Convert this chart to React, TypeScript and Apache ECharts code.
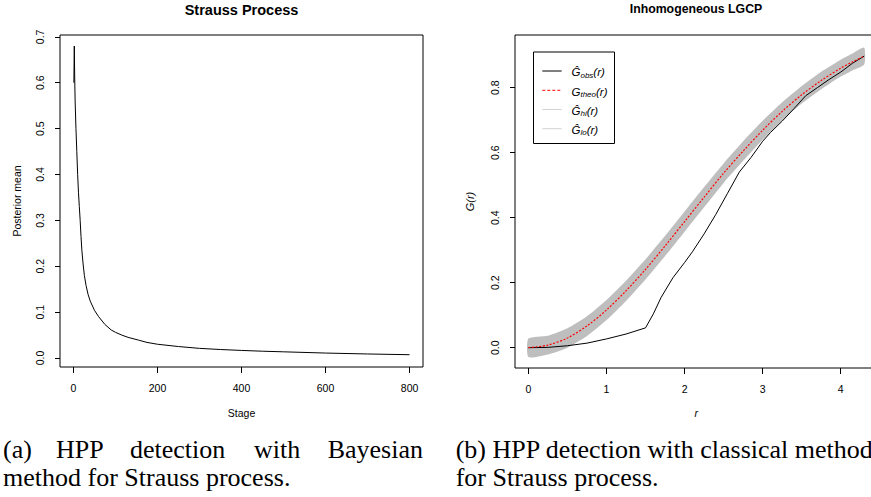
import React, { useEffect, useRef } from "react";
import * as echarts from "echarts";

// ---------- Left panel: Strauss Process (posterior mean by stage) ----------
const stage = [1, 2, 3, 4, 6, 8, 10, 12, 14, 16, 18, 20, 23, 26, 30, 35, 40, 50, 60, 75, 90, 100, 115, 130, 155, 175, 200, 250, 275, 300, 350, 400, 450, 500, 600, 700, 800];
const posteriorMean = [0.6, 0.68, 0.61, 0.56, 0.5, 0.45, 0.4, 0.36, 0.33, 0.3, 0.265, 0.235, 0.205, 0.18, 0.158, 0.138, 0.124, 0.104, 0.09, 0.073, 0.061, 0.056, 0.05, 0.045, 0.039, 0.034, 0.03, 0.025, 0.023, 0.021, 0.0185, 0.0165, 0.0148, 0.0135, 0.0108, 0.0088, 0.0072];
const stageTicks = [0, 200, 400, 600, 800];
const meanTicks = [0, 0.1, 0.2, 0.3, 0.4, 0.5, 0.6, 0.7];

// ---------- Right panel: Inhomogeneous LGCP (G function) ----------
const rGrid = [0, 0.25, 0.5, 0.75, 1, 1.25, 1.5, 1.75, 2, 2.25, 2.5, 2.75, 3, 3.25, 3.5, 3.75, 4, 4.15, 4.3];
const gTheo = [0, 0.008, 0.03, 0.067, 0.116, 0.175, 0.241, 0.313, 0.388, 0.463, 0.537, 0.605, 0.669, 0.727, 0.778, 0.822, 0.86, 0.879, 0.897];
const gHi = [0.028, 0.037, 0.06, 0.097, 0.147, 0.206, 0.272, 0.344, 0.419, 0.494, 0.567, 0.635, 0.698, 0.755, 0.805, 0.849, 0.886, 0.905, 0.923];
const gLo = [-0.029, -0.021, 0.0, 0.036, 0.085, 0.144, 0.21, 0.282, 0.357, 0.432, 0.507, 0.575, 0.64, 0.699, 0.751, 0.795, 0.834, 0.853, 0.871];
const rObs = [0, 0.25, 0.5, 0.75, 1.0, 1.25, 1.5, 1.6, 1.7, 1.85, 2.0, 2.1, 2.25, 2.4, 2.55, 2.7, 2.85, 3.0, 3.1, 3.25, 3.4, 3.55, 3.7, 3.85, 4.0, 4.15, 4.3];
const gObs = [0, 0.001, 0.006, 0.014, 0.027, 0.042, 0.061, 0.104, 0.155, 0.215, 0.262, 0.295, 0.35, 0.41, 0.475, 0.54, 0.585, 0.635, 0.662, 0.697, 0.735, 0.775, 0.8, 0.825, 0.848, 0.875, 0.897];
const rTicks = [0, 1, 2, 3, 4];
const gTicks = [0, 0.2, 0.4, 0.6, 0.8];

const legendLabels = [
  "{g|Ĝ}{s|obs}{g|(r)}",
  "{g|G}{s|theo}{g|(r)}",
  "{g|Ĝ}{s|hi}{g|(r)}",
  "{g|Ĝ}{s|lo}{g|(r)}",
];
const legendColors = ["#000000", "#ff0000", "#d3d3d3", "#d3d3d3"];
const legendDash: any[] = ["solid", [3, 2], "solid", "solid"];

const captionA1 = ["(a)", "HPP", "detection", "with", "Bayesian"];
const captionA2 = "method for Strauss process.";
const captionB1 = "(b) HPP detection with classical method";
const captionB2 = "for Strauss process.";

const SANS = "'Liberation Sans', Arial, Helvetica, sans-serif";
const SERIF = "'Liberation Serif', 'Times New Roman', Times, serif";

function axisBase(ticks: number[], fmt: (v: number) => string, tickLen: number, margin: number, rotate = 0) {
  return {
    type: "value" as const,
    axisLine: { show: false, onZero: false },
    splitLine: { show: false },
    axisTick: { show: true, inside: false, length: tickLen, customValues: ticks, lineStyle: { color: "#000", width: 1 } },
    axisLabel: { customValues: ticks, formatter: fmt, color: "#000", fontSize: 10.5, fontFamily: SANS, margin, rotate },
    nameTextStyle: { color: "#000", fontSize: 10.5, fontFamily: SANS },
  };
}

export default function App() {
  const ref = useRef<HTMLDivElement>(null);
  useEffect(() => {
    if (!ref.current) return;
    const chart = echarts.init(ref.current, null, { renderer: "svg" });

    const legendX0 = 533.5;
    const legendY0 = 52;
    const rowY = [71, 90.3, 109.5, 128.7];
    const legendGraphics: any[] = [
      { type: "rect", shape: { x: legendX0, y: legendY0, width: 81, height: 91.5 }, style: { fill: "#fff", stroke: "#000", lineWidth: 1 }, z: 50 },
    ];
    legendLabels.forEach((lab, i) => {
      legendGraphics.push({
        type: "line",
        shape: { x1: 542.3, y1: rowY[i], x2: 561.7, y2: rowY[i] },
        style: { stroke: legendColors[i], lineWidth: 1, lineDash: legendDash[i] === "solid" ? null : legendDash[i] },
        z: 51,
      });
      legendGraphics.push({
        type: "text",
        x: 571.5,
        y: rowY[i] + 1.2,
        z: 51,
        style: {
          text: lab,
          align: "left",
          verticalAlign: "middle",
          fill: "#000",
          rich: {
            g: { fontSize: 11.5, fontStyle: "italic", fontFamily: SANS, lineHeight: 14, verticalAlign: "middle", fill: "#000" },
            s: { fontSize: 8, fontStyle: "italic", fontFamily: SANS, lineHeight: 7, verticalAlign: "bottom", fill: "#000" },
          },
        },
      });
    });

    const captionXs = [3, 56, 130, 254, 423];
    const captionGraphics: any[] = captionA1.map((w, i) => ({
      type: "text",
      x: captionXs[i],
      y: 449.2,
      style: { text: w, fontSize: 26, fontFamily: SERIF, fill: "#000", align: i === captionA1.length - 1 ? "right" : "left", verticalAlign: "middle" },
    }));
    captionGraphics.push(
      { type: "text", x: 3, y: 477.4, style: { text: captionA2, fontSize: 26, fontFamily: SERIF, fill: "#000", align: "left", verticalAlign: "middle" } },
      { type: "text", x: 455.7, y: 449.2, style: { text: captionB1, fontSize: 26, fontFamily: SERIF, fill: "#000", align: "left", verticalAlign: "middle" } },
      { type: "text", x: 455.7, y: 477.4, style: { text: captionB2, fontSize: 26, fontFamily: SERIF, fill: "#000", align: "left", verticalAlign: "middle" } }
    );

    const titleGraphics: any[] = [
      { type: "text", x: 241.5, y: 10, style: { text: "Strauss Process", fontSize: 14.5, fontWeight: "bold", fontFamily: SANS, fill: "#000", align: "center", verticalAlign: "middle" } },
      { type: "text", x: 696, y: 8.7, style: { text: "Inhomogeneous LGCP", fontSize: 12.3, fontWeight: "bold", fontFamily: SANS, fill: "#000", align: "center", verticalAlign: "middle" } },
    ];

    const option: any = {
      animation: false,
      backgroundColor: "#ffffff",
      textStyle: { fontFamily: SANS },
      grid: [
        { left: 60, top: 35, width: 363, height: 332, show: true, borderColor: "#000", borderWidth: 1, backgroundColor: "transparent", containLabel: false, outerBoundsMode: "none" },
        { left: 515, top: 35, width: 362.6, height: 333, show: true, borderColor: "#000", borderWidth: 1, backgroundColor: "transparent", containLabel: false, outerBoundsMode: "none" },
      ],
      xAxis: [
        {
          ...axisBase(stageTicks, (v: number) => String(v), 6, 15.5),
          gridIndex: 0,
          min: -32,
          max: 832,
          name: "Stage",
          nameLocation: "middle",
          nameGap: 40.5,
        },
        {
          ...axisBase(rTicks, (v: number) => String(v), 6, 15.5),
          gridIndex: 1,
          min: -0.172,
          max: 4.472,
          name: "r",
          nameLocation: "middle",
          nameGap: 39.5,
          nameTextStyle: { color: "#000", fontSize: 10.5, fontFamily: SANS, fontStyle: "italic" },
        },
      ],
      yAxis: [
        {
          ...axisBase(meanTicks, (v: number) => v.toFixed(1), 5, 14.5, 90),
          gridIndex: 0,
          min: -0.0196,
          max: 0.704,
          name: "Posterior mean",
          nameLocation: "middle",
          nameGap: 38,
        },
        {
          ...axisBase(gTicks, (v: number) => v.toFixed(1), 5, 14.2, 90),
          gridIndex: 1,
          min: -0.0625,
          max: 0.962,
          name: "G(r)",
          nameLocation: "middle",
          nameGap: 39.5,
          nameTextStyle: { color: "#000", fontSize: 11, fontFamily: SANS, fontStyle: "italic" },
        },
      ],
      series: [
        {
          name: "Posterior mean",
          type: "line",
          xAxisIndex: 0,
          yAxisIndex: 0,
          data: stage.map((s, i) => [s, posteriorMean[i]]),
          showSymbol: false,
          symbol: "none",
          lineStyle: { color: "#000", width: 1 },
          silent: true,
        },
        {
          name: "envelope",
          type: "custom",
          xAxisIndex: 1,
          yAxisIndex: 1,
          data: [[rGrid[0], gLo[0]]],
          silent: true,
          z: 1,
          renderItem: (params: any, api: any) => {
            const pts: number[][] = [];
            rGrid.forEach((r, i) => pts.push(api.coord([r, gHi[i]])));
            for (let i = rGrid.length - 1; i >= 0; i--) pts.push(api.coord([rGrid[i], gLo[i]]));
            return { type: "polygon", shape: { points: pts, smooth: 0.2 }, style: { fill: "#bebebe", stroke: null } };
          },
        },
        {
          name: "obs",
          type: "line",
          xAxisIndex: 1,
          yAxisIndex: 1,
          data: rObs.map((r, i) => [r, gObs[i]]),
          showSymbol: false,
          symbol: "none",
          lineStyle: { color: "#000", width: 1 },
          z: 3,
          silent: true,
        },
        {
          name: "theo",
          type: "line",
          xAxisIndex: 1,
          yAxisIndex: 1,
          data: rGrid.map((r, i) => [r, gTheo[i]]),
          showSymbol: false,
          symbol: "none",
          smooth: 0.3,
          lineStyle: { color: "#ff0000", width: 1.2, type: [2, 1.6] },
          z: 4,
          silent: true,
        },
      ],
      graphic: [...titleGraphics, ...legendGraphics, ...captionGraphics],
    };
    chart.setOption(option);
    return () => chart.dispose();
  }, []);

  return <div ref={ref} style={{ position: "absolute", left: 0, top: 0, width: 871, height: 497, background: "#fff" }} />;
}
